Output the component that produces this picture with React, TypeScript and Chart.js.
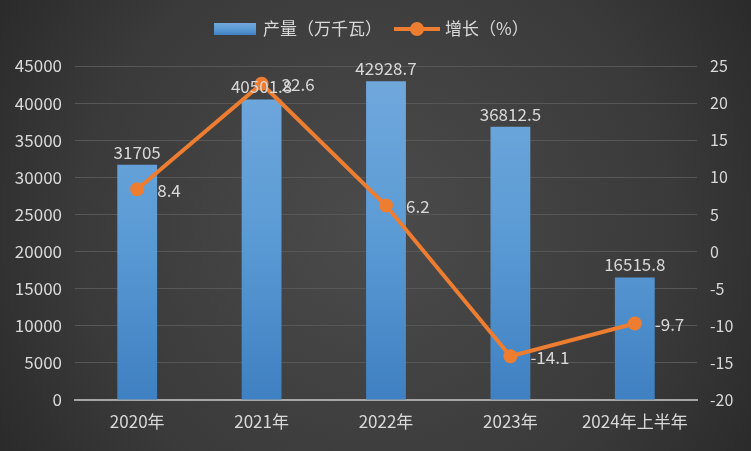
import React, { useEffect, useRef } from "react";
import { Chart, registerables } from "chart.js";

Chart.register(...registerables);

const categories = ["2020年", "2021年", "2022年", "2023年", "2024年上半年"];
const outputValues = [31705, 40501.8, 42928.7, 36812.5, 16515.8];
const outputLabels = ["31705", "40501.8", "42928.7", "36812.5", "16515.8"];
const growthValues = [8.4, 22.6, 6.2, -14.1, -9.7];
const outputName = "产量（万千瓦）";
const growthName = "增长（%）";

const FONT = "'Noto Sans CJK SC', 'Noto Sans', sans-serif";
const TEXT = "#d9d9d9";
const ORANGE = "#ed7d31";

function barGradient(ctx: CanvasRenderingContext2D, top: number, bottom: number) {
  const g = ctx.createLinearGradient(0, top, 0, bottom);
  g.addColorStop(0, "#72a9dd");
  g.addColorStop(0.5, "#5b9bd5");
  g.addColorStop(1, "#3f80c2");
  return g;
}

const bgPlugin = {
  id: "bg",
  beforeDraw(chart: any) {
    const { ctx, width, height } = chart;
    ctx.save();
    const g = ctx.createRadialGradient(width / 2, height / 2, 20, width / 2, height / 2, 480);
    g.addColorStop(0, "#4a4a4a");
    g.addColorStop(0.6, "#3a3a3a");
    g.addColorStop(1, "#262626");
    ctx.fillStyle = g;
    ctx.fillRect(0, 0, width, height);
    ctx.restore();
  },
};

const labelPlugin = {
  id: "labels",
  afterDatasetsDraw(chart: any) {
    const ctx = chart.ctx;
    ctx.save();
    ctx.fillStyle = TEXT;
    ctx.font = `17px ${FONT}`;
    const barMeta = chart.getDatasetMeta(0);
    barMeta.data.forEach((el: any, i: number) => {
      ctx.textAlign = "center";
      ctx.textBaseline = "bottom";
      ctx.fillText(outputLabels[i], el.x, el.y - 4);
    });
    const lineMeta = chart.getDatasetMeta(1);
    lineMeta.data.forEach((el: any, i: number) => {
      ctx.textAlign = "left";
      ctx.textBaseline = "middle";
      ctx.fillText(String(growthValues[i]), el.x + 20, el.y + 1);
    });
    ctx.restore();
  },
  afterDraw(chart: any) {
    const ctx = chart.ctx;
    ctx.save();
    ctx.font = `17px ${FONT}`;
    ctx.textBaseline = "middle";
    ctx.textAlign = "left";
    const cy = 29;
    let x = 214;
    ctx.fillStyle = barGradient(ctx, cy - 6, cy + 6);
    ctx.fillRect(x, cy - 6, 42, 12);
    x += 49;
    ctx.fillStyle = TEXT;
    ctx.fillText(outputName, x, cy);
    x += ctx.measureText(outputName).width + 12;
    ctx.strokeStyle = ORANGE;
    ctx.lineWidth = 4;
    ctx.beginPath();
    ctx.moveTo(x, cy);
    ctx.lineTo(x + 46, cy);
    ctx.stroke();
    ctx.fillStyle = ORANGE;
    ctx.beginPath();
    ctx.arc(x + 23, cy, 7, 0, Math.PI * 2);
    ctx.fill();
    x += 51;
    ctx.fillStyle = TEXT;
    ctx.fillText(growthName, x, cy);
    ctx.restore();
  },
};

export default function App() {
  const ref = useRef<HTMLCanvasElement | null>(null);

  useEffect(() => {
    if (!ref.current) return;
    const chart = new Chart(ref.current, {
      type: "bar",
      data: {
        labels: categories,
        datasets: [
          {
            type: "bar",
            label: outputName,
            data: outputValues,
            yAxisID: "y",
            order: 1,
            backgroundColor: (c: any) => {
              const area = c.chart.chartArea;
              if (!area) return "#5b9bd5";
              return barGradient(c.chart.ctx, area.top, area.bottom);
            },
            borderWidth: 0,
            barPercentage: 0.32,
            categoryPercentage: 1,
          },
          {
            type: "line",
            label: growthName,
            data: growthValues,
            yAxisID: "y1",
            order: 0,
            borderColor: ORANGE,
            backgroundColor: ORANGE,
            borderWidth: 4,
            pointRadius: 7,
            pointBackgroundColor: ORANGE,
            pointBorderWidth: 0,
            tension: 0,
          },
        ] as any,
      },
      options: {
        responsive: false,
        animation: false,
        layout: { padding: { top: 66, left: 0, right: 0, bottom: 0 } },
        plugins: {
          legend: { display: false },
          tooltip: { enabled: false },
        },
        scales: {
          x: {
            grid: { display: false, drawTicks: false },
            border: { display: true, color: "#a6a6a6", width: 2 },
            ticks: { color: TEXT, font: { family: FONT, size: 17 }, padding: 11, maxRotation: 0, autoSkip: false },
            afterFit: (s: any) => {
              s.height = 51;
            },
          },
          y: {
            position: "left",
            min: 0,
            max: 45000,
            ticks: {
              stepSize: 5000,
              color: TEXT,
              font: { family: FONT, size: 17 },
              padding: 13,
              callback: (v: any) => String(v),
            },
            grid: { color: "#575757", lineWidth: 1, drawTicks: false },
            border: { display: false },
            afterFit: (s: any) => {
              s.width = 75;
            },
          },
          y1: {
            position: "right",
            min: -20,
            max: 25,
            ticks: { stepSize: 5, color: TEXT, font: { family: FONT, size: 16 }, padding: 13 },
            grid: { drawOnChartArea: false, drawTicks: false },
            border: { display: false },
            afterFit: (s: any) => {
              s.width = 54;
            },
          },
        },
      } as any,
      plugins: [bgPlugin, labelPlugin],
    });
    return () => chart.destroy();
  }, []);

  return (
    <div style={{ position: "absolute", left: 0, top: 0, width: 751, height: 451 }}>
      <canvas ref={ref} width={751} height={451} />
    </div>
  );
}
